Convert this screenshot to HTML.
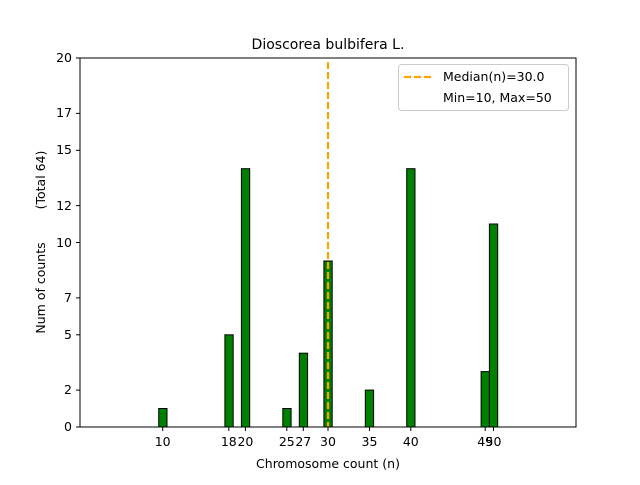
<!DOCTYPE html>
<html><head><style>body{margin:0;background:#fff}</style></head><body>
<svg width="640" height="480" xmlns="http://www.w3.org/2000/svg" font-family="DejaVu Sans, Liberation Sans, sans-serif">
<rect width="640" height="480" fill="#fff"/>
<text x="328" y="49" font-size="14" text-anchor="middle">Dioscorea bulbifera L.</text>
<g fill="green" stroke="#000" stroke-width="1">
<rect x="158.7" y="408.5" width="8.3" height="18.5"/>
<rect x="224.9" y="334.8" width="8.3" height="92.2"/>
<rect x="241.4" y="168.7" width="8.3" height="258.3"/>
<rect x="282.8" y="408.5" width="8.3" height="18.5"/>
<rect x="299.3" y="353.2" width="8.3" height="73.8"/>
<rect x="323.9" y="261" width="8.3" height="166"/>
<rect x="365.3" y="390.1" width="8.3" height="36.9"/>
<rect x="406.7" y="168.7" width="8.3" height="258.3"/>
<rect x="481.1" y="371.6" width="8.3" height="55.4"/>
<rect x="489.4" y="224" width="8.3" height="203"/>
</g>
<line x1="328" y1="62" x2="328" y2="427" stroke="orange" stroke-width="2.2" stroke-dasharray="7,3"/>
<rect x="80" y="58" width="496" height="369" fill="none" stroke="#000" stroke-width="1"/>
<g stroke="#000">
<line x1="162.7" y1="427" x2="162.7" y2="431"/><line x1="228.8" y1="427" x2="228.8" y2="431"/><line x1="245.4" y1="427" x2="245.4" y2="431"/><line x1="286.8" y1="427" x2="286.8" y2="431"/><line x1="303.3" y1="427" x2="303.3" y2="431"/><line x1="328" y1="427" x2="328" y2="431"/><line x1="369.5" y1="427" x2="369.5" y2="431"/><line x1="410.8" y1="427" x2="410.8" y2="431"/><line x1="485.2" y1="427" x2="485.2" y2="431"/><line x1="493.5" y1="427" x2="493.5" y2="431"/>
<line x1="76" y1="427" x2="80" y2="427"/><line x1="76" y1="390.1" x2="80" y2="390.1"/><line x1="76" y1="334.8" x2="80" y2="334.8"/><line x1="76" y1="297.9" x2="80" y2="297.9"/><line x1="76" y1="242.5" x2="80" y2="242.5"/><line x1="76" y1="205.6" x2="80" y2="205.6"/><line x1="76" y1="150.3" x2="80" y2="150.3"/><line x1="76" y1="113.4" x2="80" y2="113.4"/><line x1="76" y1="58" x2="80" y2="58"/>
</g>
<g font-size="12.5" text-anchor="middle">
<text x="162.7" y="446">10</text><text x="228.8" y="446">18</text><text x="245.4" y="446">20</text><text x="286.8" y="446">25</text><text x="303.3" y="446">27</text><text x="328" y="446">30</text><text x="369.5" y="446">35</text><text x="410.8" y="446">40</text><text x="485.2" y="446">49</text><text x="493.5" y="446">50</text>
</g>
<g font-size="12.5" text-anchor="end">
<text x="72" y="431">0</text><text x="72" y="394">2</text><text x="72" y="339">5</text><text x="72" y="302">7</text><text x="72" y="247">10</text><text x="72" y="210">12</text><text x="72" y="154">15</text><text x="72" y="117">17</text><text x="72" y="62">20</text>
</g>
<text x="328" y="468" font-size="12.5" text-anchor="middle">Chromosome count (n)</text>
<text transform="translate(45,288) rotate(-90)" font-size="12.5" text-anchor="middle">Num of counts</text>
<text transform="translate(45,180) rotate(-90)" font-size="12.5" text-anchor="middle">(Total 64)</text>
<rect x="398.5" y="64.5" width="170" height="46" rx="3" fill="#fff" stroke="#ccc"/>
<line x1="404" y1="77" x2="432" y2="77" stroke="orange" stroke-width="2.2" stroke-dasharray="7,3"/>
<text x="443" y="81" font-size="12.5">Median(n)=30.0</text>
<text x="443" y="102" font-size="12.5">Min=10, Max=50</text>
</svg>
</body></html>
